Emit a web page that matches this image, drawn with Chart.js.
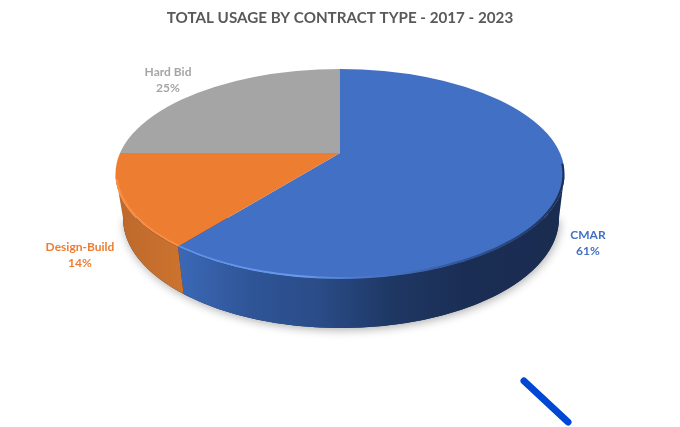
<!DOCTYPE html>
<html>
<head>
<meta charset="utf-8">
<style>html,body{margin:0;padding:0;background:#fff}canvas{display:block}</style>
<script src="https://cdn.jsdelivr.net/npm/chart.js@4"></script>
</head>
<body>
<canvas id="c" width="680" height="427"></canvas>
<script>
const categories = ['CMAR', 'Design-Build', 'Hard Bid'];
const shares = [61, 14, 25];
const sliceColors = ['#4270c4', '#ed7d31', '#a5a5a5'];
const titleText = 'TOTAL USAGE BY CONTRACT TYPE - 2017 - 2023';

// 3D look of the pie
const apex = {x: 340, y: 153};
const squash = 0.478;
const topFace = {x: 340, y: 174, rx: 224.5, ry: 105};
const bottomFace = {x: 341, y: 218, rx: 218, ry: 110};
const labelAnchors = [{x: 588, y: 235}, {x: 80, y: 247}, {x: 168, y: 72}];

function rimParam(a) {
  // ray from the apex along the squashed direction, hit on the top ellipse
  const dx = Math.cos(a), dy = Math.sin(a) * squash;
  const ox = (apex.x - topFace.x) / topFace.rx, oy = (apex.y - topFace.y) / topFace.ry;
  const ux = dx / topFace.rx, uy = dy / topFace.ry;
  const A = ux * ux + uy * uy, B = 2 * (ox * ux + oy * uy), C = ox * ox + oy * oy - 1;
  const k = (-B + Math.sqrt(B * B - 4 * A * C)) / (2 * A);
  return Math.atan2(oy + uy * k, ox + ux * k);
}
function norm(a) { while (a < 0) a += 2 * Math.PI; while (a >= 2 * Math.PI) a -= 2 * Math.PI; return a; }

function wallGradient(ctx, i) {
  const g = ctx.createLinearGradient(topFace.x - topFace.rx, 0, topFace.x + topFace.rx, 0);
  if (i === 0) {
    g.addColorStop(0.13, '#3c69b8');
    g.addColorStop(0.30, '#2f5597');
    g.addColorStop(0.45, '#2a4c88');
    g.addColorStop(0.62, '#1e3763');
    g.addColorStop(0.80, '#1a2d53');
    g.addColorStop(1, '#1a2c50');
  } else {
    g.addColorStop(0, '#bd682c');
    g.addColorStop(0.14, '#cb722e');
  }
  return g;
}

const pie3d = {
  id: 'pie3d',
  beforeDatasetsDraw(chart) {
    const ctx = chart.ctx;
    const arcs = chart.getDatasetMeta(0).data;
    // soft shadow on the floor
    ctx.save();
    ctx.shadowColor = 'rgba(0,0,0,0.32)';
    ctx.shadowBlur = 10;
    ctx.shadowOffsetX = 1;
    ctx.shadowOffsetY = 2;
    ctx.fillStyle = '#1a2c50';
    ctx.beginPath();
    ctx.ellipse(bottomFace.x, bottomFace.y, bottomFace.rx, bottomFace.ry, 0, 0, Math.PI);
    ctx.fill();
    ctx.restore();
    // side walls
    arcs.forEach((arc, i) => {
      let t0 = norm(rimParam(arc.startAngle)), t1 = norm(rimParam(arc.endAngle));
      if (i === 0) { t0 = 0; }
      if (i === 1) { t1 = Math.PI; }
      if (i === 2) { return; }
      ctx.save();
      ctx.fillStyle = wallGradient(ctx, i);
      ctx.beginPath();
      ctx.ellipse(topFace.x, topFace.y, topFace.rx, topFace.ry, 0, t0, t1);
      ctx.ellipse(bottomFace.x, bottomFace.y, bottomFace.rx, bottomFace.ry, 0, t1, t0, true);
      ctx.closePath();
      ctx.fill();
      ctx.restore();
    });
    // squash the pie and clip it to the top face
    const arc0 = arcs[0];
    const f = 2 * topFace.rx / arc0.outerRadius;
    ctx.save();
    ctx.beginPath();
    ctx.ellipse(topFace.x, topFace.y, topFace.rx, topFace.ry, 0, 0, 2 * Math.PI);
    ctx.clip();
    ctx.translate(apex.x, apex.y);
    ctx.scale(f, f * squash);
    ctx.translate(-arc0.x, -arc0.y);
  },
  afterDatasetsDraw(chart) {
    const ctx = chart.ctx;
    ctx.restore();
    const arcs = chart.getDatasetMeta(0).data;
    // bevel highlight along the front rim, kept just inside the face
    ctx.save();
    ctx.beginPath();
    ctx.ellipse(topFace.x, topFace.y, topFace.rx, topFace.ry, 0, 0, 2 * Math.PI);
    ctx.rect(topFace.x - topFace.rx, topFace.y, 2 * topFace.rx, 40);
    ctx.clip();
    ctx.filter = 'blur(0.7px)';
    ctx.lineWidth = 2.2;
    const tSplit = norm(rimParam(arcs[0].endAngle));
    const g = ctx.createLinearGradient(178, 0, 564, 0);
    g.addColorStop(0, '#5f8fe6');
    g.addColorStop(0.32, '#6a9aec');
    g.addColorStop(0.52, 'rgba(80,120,200,0.5)');
    g.addColorStop(0.72, 'rgba(45,75,135,0.7)');
    g.addColorStop(1, 'rgba(26,44,80,0.95)');
    ctx.strokeStyle = g;
    ctx.beginPath();
    ctx.ellipse(topFace.x, topFace.y, topFace.rx - 1, topFace.ry - 1, 0, -0.1, tSplit);
    ctx.stroke();
    ctx.strokeStyle = '#f78f45';
    ctx.beginPath();
    ctx.ellipse(topFace.x, topFace.y, topFace.rx - 1, topFace.ry - 1, 0, tSplit, Math.PI - 0.05);
    ctx.stroke();
    ctx.restore();
    // data labels
    ctx.save();
    ctx.font = 'bold 12px Lato';
    ctx.textAlign = 'center';
    ctx.textBaseline = 'middle';
    categories.forEach((name, i) => {
      ctx.fillStyle = sliceColors[i];
      ctx.fillText(name, labelAnchors[i].x, labelAnchors[i].y);
      ctx.fillText(shares[i] + '%', labelAnchors[i].x, labelAnchors[i].y + 16);
    });
    ctx.restore();
    // hand-drawn blue stroke at the lower right
    ctx.save();
    ctx.strokeStyle = '#0047d6';
    ctx.lineWidth = 7;
    ctx.lineCap = 'round';
    ctx.beginPath();
    ctx.moveTo(524, 381);
    ctx.lineTo(568, 422);
    ctx.stroke();
    ctx.restore();
  }
};

new Chart(document.getElementById('c'), {
  type: 'pie',
  data: {
    labels: categories,
    datasets: [{
      data: shares,
      backgroundColor: sliceColors,
      borderWidth: 0,
      clip: false
    }]
  },
  options: {
    responsive: false,
    animation: false,
    events: [],
    plugins: {
      legend: {display: false},
      tooltip: {enabled: false},
      title: {
        display: true,
        text: titleText,
        color: '#595959',
        font: {family: 'Lato', size: 15.2, weight: 'bold'},
        padding: {top: 9, bottom: 6}
      }
    }
  },
  plugins: [pie3d]
});
</script>
</body>
</html>
